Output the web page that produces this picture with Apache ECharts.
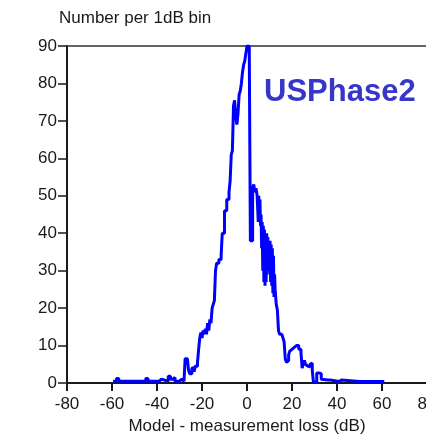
<!DOCTYPE html>
<html>
<head>
<meta charset="utf-8">
<script src="https://cdn.jsdelivr.net/npm/echarts@6/dist/echarts.min.js"></script>
<style>
  html, body { margin: 0; padding: 0; background: #fff; }
  #chart { width: 426px; height: 437px; }
</style>
</head>
<body>
<div id="chart"></div>
<script>
// Model minus measurement loss (dB) and number of links per 1 dB bin
const lossDb = [
  -59.5, -58, -57, -52, -45, -44, -39, -38, -35, -34, -33, -32, -30, -29, -28,
  -27.5, -26.5, -26, -25.5, -24.5, -23.5, -23, -22, -21.5, -21, -20.5, -20, -19.5, -19,
  -18.5, -18, -17.5, -17, -16.5, -16, -15.5, -15, -14.5, -14, -13.5, -12.5, -11.5, -11,
  -10, -9, -8, -7.5, -7, -6.5, -6, -5.5, -5, -4.5, -4, -3.5, -3, -2.5, -2, -1.5, -1,
  -0.5, 0, 0.5, 1, 1.5, 2, 2.5, 3, 3.5, 4, 4.5,
  5, 5.25, 5.5, 5.75, 6, 6.25, 6.5, 6.75, 7, 7.25, 7.5, 7.75, 8, 8.25, 8.5, 8.75,
  9, 9.25, 9.5, 9.75, 10, 10.25, 10.5, 10.75, 11, 11.25, 11.5, 11.75, 12, 12.25,
  12.5, 13, 13.5, 14, 14.5, 15, 15.5, 16, 16.5, 17, 17.5, 18, 18.5, 19, 19.5, 20,
  21, 22, 22.5, 23, 24, 24.5, 25, 25.5, 26, 26.5, 27, 28, 28.5, 29, 29.5, 31, 32,
  33, 33.5, 36, 37, 41, 41.5, 42, 50, 51, 51.5, 61
];
const counts = [
  0.5, 1.2, 0.5, 0.5, 1.2, 0.5, 1, 0.5, 1.8, 1, 1.5, 0.5, 1, 0.5, 0.5,
  6.5, 6, 3.5, 2.5, 4, 3, 4.5, 5.5, 9, 12, 13.5, 12, 14, 13,
  14.5, 13, 16, 14, 17, 16, 20, 21, 22, 30, 32, 33, 34, 40,
  46, 49, 51, 54, 61, 62, 74, 75.5, 71, 69, 72, 77, 78, 80, 83, 85, 86,
  88, 90, 90, 90, 38, 38, 52, 53, 51, 52, 50,
  43, 50, 44, 49, 42, 45, 36, 43, 30, 42, 27, 41, 26, 40, 27, 40,
  29, 39, 31, 38, 30, 38, 27, 37, 26, 36, 24, 34, 23, 29,
  25, 21, 19.5, 14, 13, 13, 12.5, 12, 11, 6.5, 5.5, 6, 7.5, 8.5, 9, 9.5,
  10, 10, 10, 9, 8, 4, 5, 6, 5, 4.5, 4.3, 5, 5.3, 3.5, 0.3, 2.7, 2.5,
  1, 0.8, 0.8, 0.4, 0.4, 0.8, 0.4, 0.4, 0.9, 0.4, 0.4
];
const xTicks = [-80, -60, -40, -20, 0, 20, 40, 60, 80];
const yTicks = [0, 10, 20, 30, 40, 50, 60, 70, 80, 90];

const points = lossDb.map((x, i) => [x, counts[i]]);
const font = 'Liberation Sans, Arial, sans-serif';
const ink = '#1a1a1a';

const chart = echarts.init(document.getElementById('chart'), null, { renderer: 'canvas' });
chart.setOption({
  animation: false,
  backgroundColor: '#fff',
  grid: { left: 67, top: 46, width: 360, height: 337, containLabel: false, outerBoundsMode: 'none' },
  xAxis: [{
    type: 'value',
    min: xTicks[0], max: xTicks[xTicks.length - 1], interval: 20,
    name: 'Model - measurement loss (dB)',
    nameLocation: 'middle', nameGap: 35,
    nameTextStyle: { fontFamily: font, fontSize: 17, color: ink },
    axisLine: { onZero: false, lineStyle: { color: ink, width: 2 } },
    axisTick: { length: 8, lineStyle: { color: ink, width: 2 } },
    axisLabel: { fontFamily: font, fontSize: 17, color: ink, margin: 13, showMaxLabel: true, hideOverlap: false },
    splitLine: { show: false }
  }, {
    type: 'value', position: 'top',
    min: xTicks[0], max: xTicks[xTicks.length - 1],
    axisLine: { show: true, onZero: false, lineStyle: { color: '#333', width: 1.5 } },
    axisTick: { show: false }, axisLabel: { show: false }, splitLine: { show: false }
  }],
  yAxis: {
    type: 'value', min: yTicks[0], max: yTicks[yTicks.length - 1], interval: 10,
    axisLine: { show: true, onZero: false, lineStyle: { color: ink, width: 2 } },
    axisTick: { show: true, length: 9, lineStyle: { color: ink, width: 1.5 } },
    axisLabel: { fontFamily: font, fontSize: 17, color: ink, margin: 10, padding: [0, 0, 6, 0] },
    splitLine: { show: false }
  },
  graphic: [
    { type: 'text', left: 59, top: 10,
      style: { text: 'Number per 1dB bin', font: '17px ' + font, fill: ink } },
    { type: 'text', left: 264, top: 77,
      style: { text: 'USPhase2', font: 'bold 31px ' + font, fill: '#3636c8' } }
  ],
  series: [{
    type: 'line',
    data: points,
    step: 'end',
    showSymbol: false,
    clip: true,
    lineStyle: { color: '#0000ff', width: 3 }
  }]
});
</script>
</body>
</html>
